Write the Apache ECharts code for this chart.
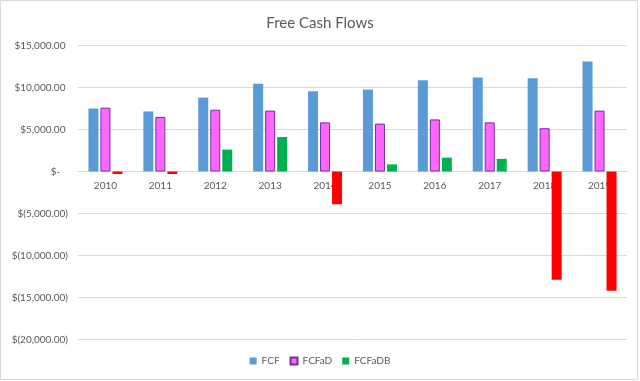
<!DOCTYPE html>
<html>
<head>
<meta charset="utf-8">
<script src="https://cdn.jsdelivr.net/npm/echarts@6/dist/echarts.min.js"></script>
<style>html,body{margin:0;padding:0;background:#fff;}#c{width:640px;height:381px;}</style>
</head>
<body>
<div id="c"></div>
<script>
const categories = ['2010','2011','2012','2013','2014','2015','2016','2017','2018','2019'];
const fcf    = [7500, 7150, 8800, 10450, 9550, 9750, 10850, 11200, 11100, 13100];
const fcfaD  = [7600, 6500, 7350, 7250, 5850, 5700, 6200, 5850, 5150, 7250];
const fcfaDB = [-300, -300, 2600, 4100, -3900, 850, 1650, 1500, -12900, -14200];
const seriesNames = ['FCF', 'FCFaD', 'FCFaDB'];
const yMin = -20000, yMax = 15000, yStep = 5000;

const textColor = '#595959';
const gridColor = '#d9d9d9';
const font = 'Lato, "Open Sans", sans-serif';

const gridTop = 45.5, gridBottom = 41.5, chartH = 381;
const plotH = chartH - gridTop - gridBottom;
// distance from bottom of plot to the zero line (derived from the axis range)
const zeroOffset = plotH * (0 - yMin) / (yMax - yMin);

function fmt(v) {
  if (v === 0) return '$-   ';
  const s = Math.abs(v).toLocaleString('en-US', {minimumFractionDigits: 2, maximumFractionDigits: 2});
  return v < 0 ? '$(' + s + ')' : '$' + s + ' ';
}

const chart = echarts.init(document.getElementById('c'), null, {renderer: 'canvas'});
chart.setOption({
  animation: false,
  backgroundColor: '#fff',
  title: {
    text: 'Free Cash Flows', left: 'center', top: 11,
    textStyle: {color: textColor, fontSize: 15, fontWeight: 'normal', fontFamily: font}
  },
  graphic: [{
    type: 'rect', shape: {x: 0.5, y: 0.5, width: 637, height: 379},
    style: {fill: 'none', stroke: gridColor, lineWidth: 1}, silent: true
  }],
  legend: {
    bottom: 10, left: 'center', itemWidth: 7, itemHeight: 7, itemGap: 10,
    textStyle: {color: textColor, fontSize: 10, fontFamily: font},
    data: [
      {name: seriesNames[0], icon: 'rect'},
      {name: seriesNames[1], icon: 'rect'},
      {name: seriesNames[2], icon: 'rect'}
    ]
  },
  grid: {left: 78, right: 13, top: gridTop, bottom: gridBottom, containLabel: false},
  xAxis: {
    type: 'category', data: categories, position: 'bottom', offset: -zeroOffset,
    axisLine: {onZero: false, lineStyle: {color: gridColor, width: 1}},
    axisTick: {show: false},
    axisLabel: {color: textColor, fontSize: 10, fontFamily: font, margin: 9}
  },
  yAxis: {
    type: 'value', min: yMin, max: yMax, interval: yStep,
    axisLine: {show: false}, axisTick: {show: false},
    splitLine: {lineStyle: {color: gridColor, width: 1}},
    axisLabel: {color: textColor, fontSize: 10, fontFamily: font, margin: 10, formatter: fmt}
  },
  series: [
    {
      name: seriesNames[0], type: 'bar', data: fcf, barWidth: 10, barGap: '20%',
      itemStyle: {color: '#5B9BD5'}
    },
    {
      name: seriesNames[1], type: 'bar', data: fcfaD, barWidth: 10, barGap: '20%',
      itemStyle: {color: '#FF66FF', borderColor: '#7030A0', borderWidth: 1}
    },
    {
      name: seriesNames[2], type: 'bar', barWidth: 10, barGap: '20%',
      itemStyle: {color: '#00B050'},
      data: fcfaDB.map(v => ({value: v, itemStyle: {color: v < 0 ? '#FF0000' : '#00B050'}}))
    }
  ]
});
</script>
</body>
</html>
